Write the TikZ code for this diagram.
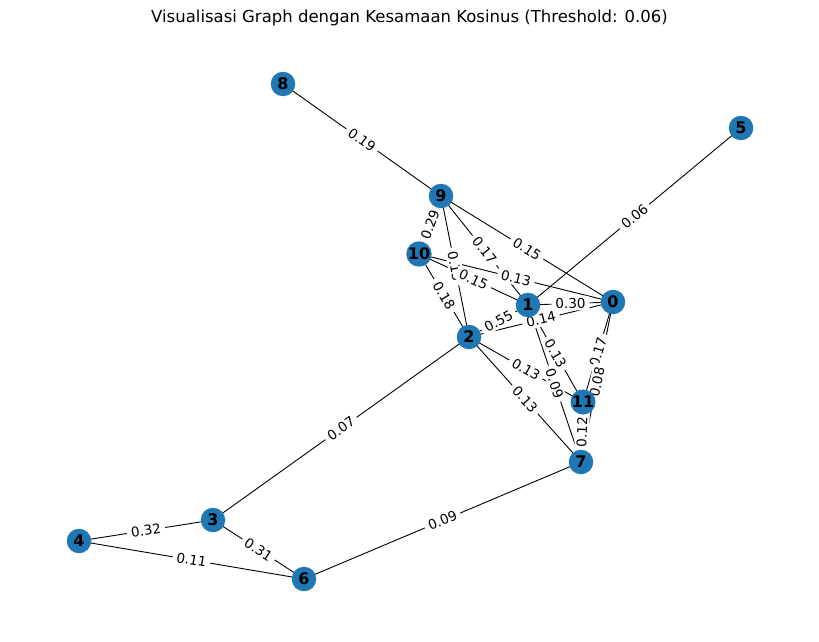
\documentclass[tikz,border=0pt]{standalone}
\usepackage{fontspec}
\setmainfont{DejaVu Sans}
\usepackage{tikz}
\usetikzlibrary{positioning}

\definecolor{nodeblue}{HTML}{1F77B4}

\tikzset{
  vertex/.style={circle, fill=nodeblue, minimum size=24.5pt, inner sep=0pt, font=\fontsize{16}{16}\selectfont\bfseries},
  weight/.style={sloped, midway, fill=white, rounded corners=2pt, inner xsep=4pt, inner ysep=2pt, font=\fontsize{13.5}{13.5}\selectfont}
}

\begin{document}
\begin{tikzpicture}[x=1pt, y=-1pt]
    \useasboundingbox (0,0) rectangle (819,642);

    % Title
    \node (title) at (409.5,18) {\fontsize{16.5}{16.5}\selectfont Visualisasi Graph dengan Kesamaan Kosinus (Threshold: 0.06)};

    % Vertex positions
    \foreach \n/\x/\y in {0/613/302, 1/528/305, 2/469/337, 3/213/520, 4/79/541, 5/741/128, 6/304/579, 7/581/462, 8/283/84, 9/441/196, 10/419/254, 11/583/402} {
      \coordinate (p\n) at (\x,\y);
    }

    % Edges first, then their weights on top
    \def\edgelist{8/9/0.19, 5/1/0.06, 9/0/0.15, 9/1/0.17, 9/10/0.29, 9/2/0.13, 10/1/0.15, 10/0/0.13, 10/2/0.18, 1/0/0.30, 2/1/0.55, 2/0/0.14, 2/11/0.13, 2/7/0.13, 1/11/0.13, 1/7/0.09, 0/11/0.17, 0/7/0.08, 11/7/0.12, 3/2/0.07, 3/4/0.32, 3/6/0.31, 4/6/0.11, 6/7/0.09}
    \foreach \a/\b/\w in \edgelist {
      \draw[black, line width=0.9pt] (p\a) -- (p\b);
    }
    \foreach \a/\b/\w in \edgelist {
      \path (p\a) -- (p\b) node[weight] {\w};
    }

    % Draw vertices on top
    \foreach \n in {0,...,11} {
      \node[vertex] (v\n) at (p\n) {\n};
    }

\end{tikzpicture}
\end{document}
